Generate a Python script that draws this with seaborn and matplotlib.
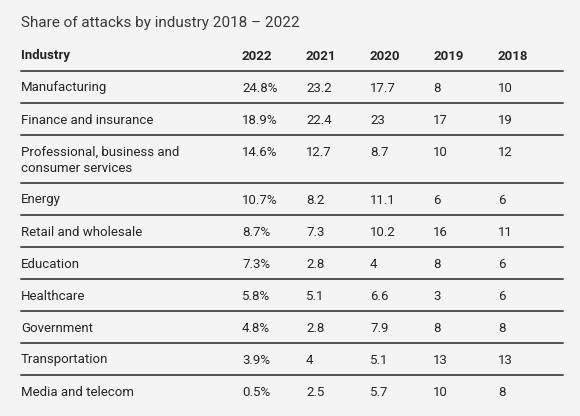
import numpy as np
import seaborn as sns
import matplotlib.pyplot as plt

industries = ["Manufacturing", "Finance and insurance",
              "Professional, business and\nconsumer services", "Energy",
              "Retail and wholesale", "Education", "Healthcare", "Government",
              "Transportation", "Media and telecom"]
years = ["2022", "2021", "2020", "2019", "2018"]
share_2022 = ["24.8%", "18.9%", "14.6%", "10.7%", "8.7%", "7.3%", "5.8%", "4.8%", "3.9%", "0.5%"]
share_2021 = ["23.2", "22.4", "12.7", "8.2", "7.3", "2.8", "5.1", "2.8", "4", "2.5"]
share_2020 = ["17.7", "23", "8.7", "11.1", "10.2", "4", "6.6", "7.9", "5.1", "5.7"]
share_2019 = ["8", "17", "10", "6", "16", "8", "3", "8", "13", "10"]
share_2018 = ["10", "19", "12", "6", "11", "6", "6", "8", "13", "8"]
columns = [share_2022, share_2021, share_2020, share_2019, share_2018]

BG = "#f4f4f4"
TXT = "#262626"

sns.set_style("white", {"axes.facecolor": BG, "figure.facecolor": BG})
plt.rcParams["font.family"] = ["Roboto", "DejaVu Sans"]

fig = plt.figure(figsize=(5.8, 4.16), dpi=100)
ax = fig.add_axes([0, 0, 1, 1])
ax.set_xlim(0, 580)
ax.set_ylim(416, 0)
ax.axis("off")

left, right = 21, 563
col_x = [242, 306, 370, 433, 498]
FS = 9.5

ax.text(left, 23, "Share of attacks by industry 2018 \u2013 2022", fontsize=11,
        color="#393939", va="center")

# header
ax.text(left, 56, "Industry", fontsize=FS, fontweight="bold", color=TXT, va="center")
for x, y in zip(col_x, years):
    ax.text(x, 56, y, fontsize=FS, fontweight="bold", color=TXT, va="center")

line_y = 71
for i, name in enumerate(industries):
    sns.lineplot(x=[left, right], y=[line_y, line_y], ax=ax, color="#525252", lw=1.4)
    parts = name.split("\n")
    for k, p in enumerate(parts):
        ax.text(left, line_y + 17 + 16 * k, p, fontsize=FS, color=TXT, va="center")
    for x, col in zip(col_x, columns):
        ax.text(x, line_y + 17, col[i], fontsize=FS, color=TXT, va="center")
    line_y += 32 + 16 * (len(parts) - 1)

fig.savefig("out.png", dpi=100, facecolor=BG)
